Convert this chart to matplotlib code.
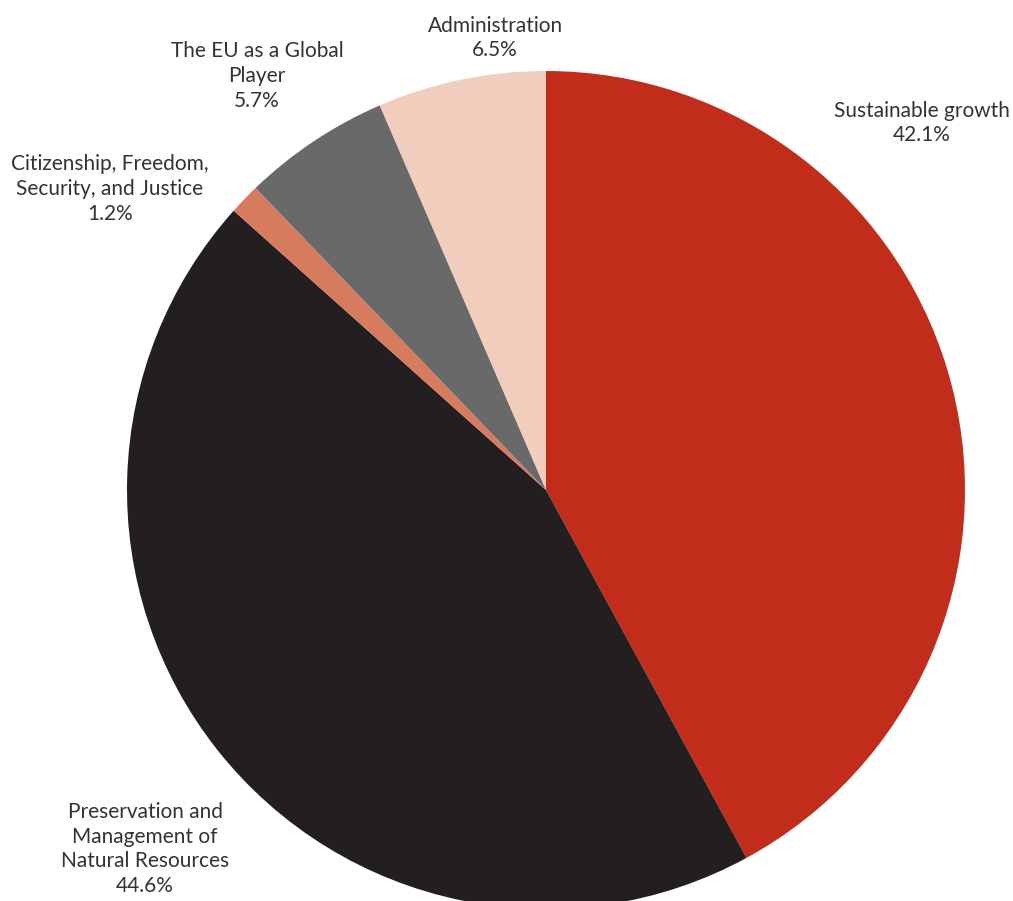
import matplotlib.pyplot as plt

# slices, clockwise from 12 o'clock
labels = ["Sustainable growth", "Preservation and\nManagement of\nNatural Resources",
          "Citizenship, Freedom,\nSecurity, and Justice", "The EU as a Global\nPlayer",
          "Administration"]
shares = [42.1, 44.6, 1.2, 5.7, 6.5]
colors = ["#C12D1A", "#231F20", "#D77B5F", "#696969", "#F0CDBC"]

# label anchor points (pixel coords, origin top-left)
label_pos = [(922, 123), (145, 849), (110, 189), (257, 76), (495, 38)]

W, H = 1013, 901
fig = plt.figure(figsize=(W / 100, H / 100), dpi=100)
ax = fig.add_axes([0, 0, 1, 1])

cx, cy, r = 546, H - 490, 419
ax.pie(shares, colors=colors, startangle=90, counterclock=False,
       center=(cx, cy), radius=r, frame=True,
       wedgeprops=dict(linewidth=0))
ax.set_xlim(0, W)
ax.set_ylim(0, H)
ax.set_aspect("equal")
ax.axis("off")

for lab, val, (x, y) in zip(labels, shares, label_pos):
    ax.text(x, H - y, f"{lab}\n{val}%", ha="center", va="center",
            fontsize=15, family="Lato", color="#333333", linespacing=1.3)

fig.savefig("out.png", dpi=100)
